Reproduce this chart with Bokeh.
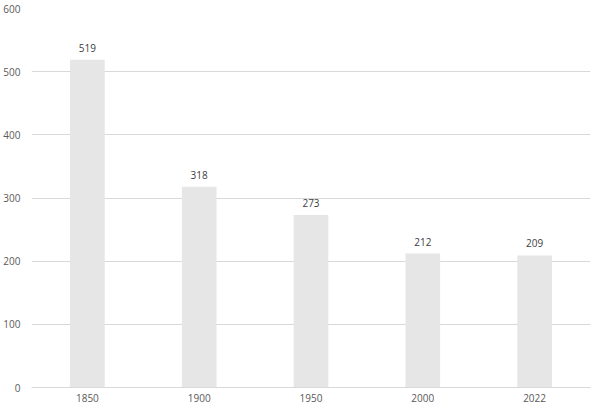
from bokeh.plotting import figure
from bokeh.models import ColumnDataSource, LabelSet, FixedTicker, Range1d
from bokeh.core.properties import value
from bokeh.embed import file_html
from bokeh.resources import INLINE

years = ["1850", "1900", "1950", "2000", "2022"]
values = [519, 318, 273, 212, 209]
labels = [str(v) for v in values]
y_ticks = [0, 100, 200, 300, 400, 500, 600]

src = ColumnDataSource(dict(x=years, y=values, t=labels))

FONT = "Open Sans"
TXT = "#595959"
GRID = "#d9d9d9"

p = figure(x_range=years, y_range=Range1d(0, 600), width=600, height=411,
           output_backend="svg", toolbar_location=None,
           min_border_left=30, min_border_right=10, min_border_top=8, min_border_bottom=24)
p.outline_line_color = None
p.background_fill_color = "white"

p.vbar(x="x", top="y", width=0.31, source=src, fill_color="#e7e6e6", line_color=None)

p.add_layout(LabelSet(x="x", y="y", text="t", source=src, text_align="center",
                      text_baseline="alphabetic", y_offset=8, text_font=value(FONT),
                      text_font_size="10px", text_color="#404040"))

p.yaxis.ticker = FixedTicker(ticks=y_ticks)
p.yaxis.axis_line_color = None
p.yaxis.major_tick_line_color = None
p.yaxis.minor_tick_line_color = None
p.yaxis.major_tick_out = 0
p.yaxis.major_tick_in = 0
p.yaxis.major_label_standoff = 11
p.yaxis.major_label_text_font = FONT
p.yaxis.major_label_text_font_size = "10px"
p.yaxis.major_label_text_color = TXT

p.xaxis.axis_line_color = GRID
p.xaxis.major_tick_line_color = None
p.xaxis.minor_tick_line_color = None
p.xaxis.major_tick_out = 0
p.xaxis.major_tick_in = 0
p.xaxis.major_label_standoff = 6
p.xaxis.major_label_text_font = FONT
p.xaxis.major_label_text_font_size = "10px"
p.xaxis.major_label_text_color = TXT

p.xgrid.grid_line_color = None
p.ygrid.grid_line_color = GRID
p.ygrid.grid_line_width = 1

open("out.html", "w").write(file_html(p, INLINE))
